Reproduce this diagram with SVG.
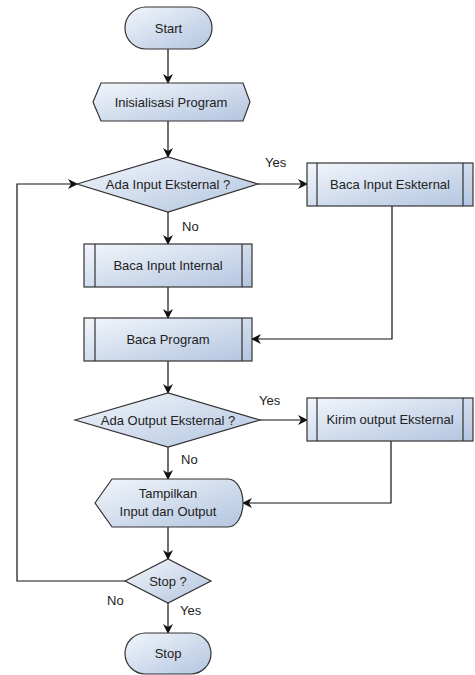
<svg xmlns="http://www.w3.org/2000/svg" width="475" height="675" viewBox="0 0 475 675">
<defs>
<linearGradient id="g" x1="0" y1="0" x2="1" y2="1">
<stop offset="0" stop-color="#f2f6fb"/>
<stop offset="1" stop-color="#b3c5e0"/>
</linearGradient>
<marker id="ar" viewBox="0 0 10 10" refX="9" refY="5" markerWidth="10" markerHeight="10" markerUnits="userSpaceOnUse" orient="auto">
<path d="M0,0 L10,5 L0,10 L3,5 Z" fill="#111"/>
</marker>
</defs>
<style>
.s{fill:url(#g);stroke:#333;stroke-width:1.2}
.i{stroke:#333;stroke-width:1.2;fill:none}
.t{font-family:"Liberation Sans",Arial,sans-serif;font-size:13px;fill:#222;text-anchor:middle}
.l{font-family:"Liberation Sans",Arial,sans-serif;font-size:13px;fill:#222}
.c{stroke:#111;stroke-width:1.2;fill:none;marker-end:url(#ar)}
</style>
<rect width="475" height="675" fill="#fff"/>
<g id="connectors">
<path class="c" d="M168,49 V83"/>
<path class="c" d="M168,121 V157"/>
<path class="c" d="M258,184 H307"/>
<path class="c" d="M168,212 V244"/>
<path class="c" d="M168,287 V318"/>
<path class="c" d="M392,206 V339 H252"/>
<path class="c" d="M168,361 V393"/>
<path class="c" d="M260,420 H307"/>
<path class="c" d="M168,447 V479"/>
<path class="c" d="M391,441 V503 H243"/>
<path class="c" d="M168,527 V559"/>
<path class="c" d="M125,581 H17 V184 H77"/>
<path class="c" d="M168,603 V633"/>
<text class="l" x="265" y="167">Yes</text>
<text class="l" x="182" y="231">No</text>
<text class="l" x="259" y="405">Yes</text>
<text class="l" x="181" y="464">No</text>
<text class="l" x="107" y="605">No</text>
<text class="l" x="180" y="615">Yes</text>
</g>
<g id="start">
<rect class="s" x="125" y="7" width="87" height="42" rx="21"/>
<text class="t" x="168.5" y="32.5">Start</text>
</g>
<g id="init">
<polygon class="s" points="93,102 101,83 243,83 250,102 243,121 101,121"/>
<text class="t" x="171" y="106.5">Inisialisasi Program</text>
</g>
<g id="dec1">
<polygon class="s" points="77,184 168,157 258,184 168,212"/>
<text class="t" x="168" y="188.5">Ada Input Eksternal ?</text>
</g>
<g id="bacaEks">
<rect class="s" x="307" y="163" width="166" height="43"/>
<path class="i" d="M317,163 V206 M463,163 V206"/>
<text class="t" x="390" y="189">Baca Input Eskternal</text>
</g>
<g id="bacaInt">
<rect class="s" x="84" y="244" width="168" height="43"/>
<path class="i" d="M95,244 V287 M242,244 V287"/>
<text class="t" x="168" y="270">Baca Input Internal</text>
</g>
<g id="bacaProg">
<rect class="s" x="84" y="318" width="168" height="43"/>
<path class="i" d="M95,318 V361 M242,318 V361"/>
<text class="t" x="168" y="344">Baca Program</text>
</g>
<g id="dec2">
<polygon class="s" points="75,420 168,393 260,420 168,447"/>
<text class="t" x="168" y="424.5">Ada Output Eksternal ?</text>
</g>
<g id="kirim">
<rect class="s" x="307" y="398" width="166" height="43"/>
<path class="i" d="M317,398 V441 M463,398 V441"/>
<text class="t" x="390" y="424">Kirim output Eksternal</text>
</g>
<g id="tampil">
<path class="s" d="M95,503 L112,479 H228 A15,24 0 0 1 228,527 H112 Z"/>
<text class="t" x="168" y="498">Tampilkan</text>
<text class="t" x="168" y="516">Input dan Output</text>
</g>
<g id="dec3">
<polygon class="s" points="125,581 168,559 211,581 168,603"/>
<text class="t" x="168" y="585.5">Stop ?</text>
</g>
<g id="stop">
<rect class="s" x="125" y="633" width="86" height="41" rx="20.5"/>
<text class="t" x="168" y="658">Stop</text>
</g>
</svg>
